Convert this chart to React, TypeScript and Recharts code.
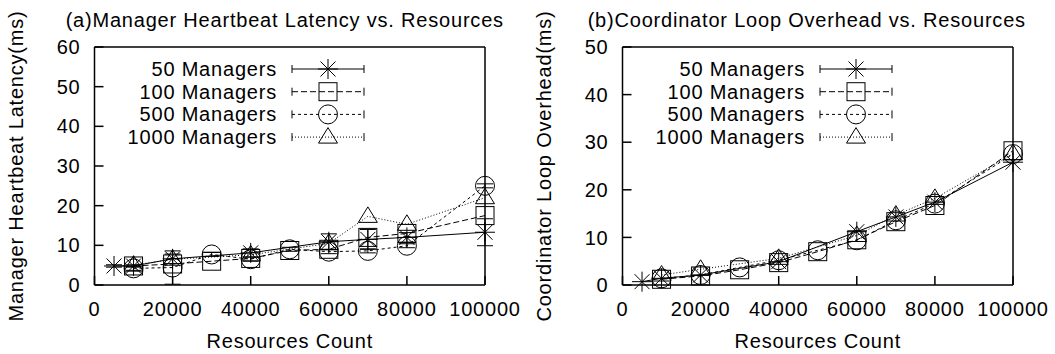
import React from 'react';
import { LineChart, Line, XAxis, YAxis, Legend, ErrorBar, Label } from 'recharts';

const FONT = '"Liberation Sans", Arial, Helvetica, sans-serif';
const FS = 20;
const LS = 0.8;

const resources = [10000, 20000, 30000, 40000, 50000, 60000, 70000, 80000, 100000];
const resources50 = [5000, 10000, 20000, 40000, 60000, 70000, 80000, 100000];
const resources1000 = [10000, 20000, 40000, 60000, 70000, 80000, 100000];

const seriesNames = ['50 Managers', '100 Managers', '500 Managers', '1000 Managers'];
const xTicks = [0, 20000, 40000, 60000, 80000, 100000];

// (a) manager heartbeat latency, ms
const latency50 = [4.8, 4.8, 6.6, 8.1, 10.9, 11.5, 12.0, 13.3];
const latency50Err = [0.3, 0.3, 1.2, 1.0, 2.0, 2.5, 1.2, 3.4];
const latency100 = [4.8, 5.3, 6.0, 6.7, 8.7, 9.0, 12.0, 13.0, 17.5];
const latency500 = [4.2, 4.4, 7.7, 6.5, 9.0, 8.4, 8.6, 9.9, 25.0];
const latency500Err = [0.5, 4.2, 0.5, 0.5, 0.5, 0.5, 0.5, 0.5, 0.5];
const latency1000 = [5.0, 6.5, 7.6, 10.5, 17.3, 15.3, 22.0];
const latencyTicks = [0, 10, 20, 30, 40, 50, 60];

// (b) coordinator loop overhead, ms
const overhead50 = [0.7, 1.4, 2.1, 4.9, 11.2, 14.3, 17.4, 25.8];
const overhead100 = [1.2, 1.9, 3.2, 4.7, 7.0, 9.5, 13.3, 16.7, 28.2];
const overhead500 = [1.4, 2.1, 3.7, 5.2, 7.3, 9.4, 13.6, 17.1, 27.5];
const overhead1000 = [2.1, 3.3, 5.6, 10.4, 14.7, 18.2, 27.6];
const overheadTicks = [0, 10, 20, 30, 40, 50];

const shapes = ['star', 'square', 'circle', 'triangle'];
const dashes = [undefined, '6 3', '3 3', '1 2'];

type Series = { xs: number[]; ys: number[]; errs?: number[] };

const Marker = ({ shape, cx, cy }: { shape: string; cx?: number; cy?: number }) => {
  if (cx == null || cy == null) return null;
  const p = { stroke: '#000', strokeWidth: 1, fill: 'none' };
  if (shape === 'star') {
    const r = 10;
    const d = 7.5;
    return (
      <g {...p}>
        <line x1={cx - r} y1={cy} x2={cx + r} y2={cy} />
        <line x1={cx} y1={cy - r} x2={cx} y2={cy + r} />
        <line x1={cx - d} y1={cy - d} x2={cx + d} y2={cy + d} />
        <line x1={cx - d} y1={cy + d} x2={cx + d} y2={cy - d} />
      </g>
    );
  }
  if (shape === 'square') return <rect x={cx - 9} y={cy - 9} width={18} height={18} {...p} />;
  if (shape === 'circle') return <circle cx={cx} cy={cy} r={9.5} {...p} />;
  return <polygon points={`${cx},${cy - 9.5} ${cx - 9.5},${cy + 6} ${cx + 9.5},${cy + 6}`} {...p} />;
};

const LegendBox = () => (
  <svg width={300} height={100} style={{ overflow: 'visible' }}>
    {seriesNames.map((name, i) => {
      const y = 14 + i * 22.7;
      return (
        <g key={name}>
          <text
            x={177} y={y} dy="0.35em" textAnchor="end" fontSize={FS} fontFamily={FONT} fill="#000"
            letterSpacing={LS}
          >
            {name}
          </text>
          <line x1={192} x2={264} y1={y} y2={y} stroke="#000" strokeWidth={1} strokeDasharray={dashes[i]} />
          <line x1={192} x2={192} y1={y - 4} y2={y + 4} stroke="#000" strokeWidth={1} />
          <line x1={264} x2={264} y1={y - 4} y2={y + 4} stroke="#000" strokeWidth={1} />
          <Marker shape={shapes[i]} cx={228} cy={y} />
        </g>
      );
    })}
  </svg>
);

const Title = ({ viewBox, value, shift }: any) => (
  <text
    x={viewBox.x + viewBox.width / 2 + shift}
    y={viewBox.y - 19}
    textAnchor="middle"
    fontSize={FS}
    fontFamily={FONT}
    letterSpacing={LS}
    fill="#000"
  >
    {value}
  </text>
);

const axisStroke = { stroke: '#000', strokeWidth: 1.5 };
const tickFont = { fontSize: FS, fill: '#000', fontFamily: FONT, letterSpacing: LS };

const Panel = ({
  title, yLabel, yMax, yTicks, series, titleShift, leftPad,
}: {
  title: string; yLabel: string; yMax: number; yTicks: number[]; series: Series[]; titleShift: number; leftPad: number;
}) => (
  <LineChart width={527 + leftPad} height={354} margin={{ top: 46, right: 41, bottom: 0, left: leftPad }}>
    <XAxis
      xAxisId="b" dataKey="x" type="number" domain={[0, 100000]} ticks={xTicks} height={69}
      tickSize={-9} tickMargin={26} axisLine={axisStroke} tickLine={axisStroke} tick={tickFont}
    >
      <Label
        value="Resources Count" position="insideBottom" offset={6}
        fontSize={FS} fontFamily={FONT} fill="#000" letterSpacing={LS}
      />
    </XAxis>
    <XAxis
      xAxisId="t" orientation="top" dataKey="x" type="number" domain={[0, 100000]} ticks={xTicks} height={1}
      tickSize={-9} axisLine={axisStroke} tickLine={axisStroke} tick={false}
    >
      <Label content={<Title shift={titleShift} />} value={title} />
    </XAxis>
    <YAxis
      yAxisId="l" type="number" domain={[0, yMax]} ticks={yTicks} width={94.5}
      tickSize={-9} tickMargin={23} axisLine={axisStroke} tickLine={axisStroke} tick={tickFont}
    >
      <Label
        value={yLabel} angle={-90} position="insideLeft" offset={16}
        fontSize={FS} fontFamily={FONT} fill="#000" letterSpacing={LS} style={{ textAnchor: 'middle' }}
      />
    </YAxis>
    <YAxis
      yAxisId="r" orientation="right" type="number" domain={[0, yMax]} ticks={yTicks} width={1}
      tickSize={-9} axisLine={axisStroke} tickLine={axisStroke} tick={false}
    />
    <Legend
      layout="vertical" align="center" verticalAlign="middle"
      wrapperStyle={{ left: leftPad + 100, top: 55, width: 300, height: 100 }}
      content={() => <LegendBox />}
    />
    {/* invisible series so the mirrored frame axes get drawn */}
    <Line
      xAxisId="t" yAxisId="r" dataKey="y" data={[{ x: 0, y: 0 }, { x: 100000, y: yMax }]}
      stroke="none" dot={false} activeDot={false} legendType="none" isAnimationActive={false}
    />
    {series.map((s, i) => (
      <Line
        key={seriesNames[i]}
        name={seriesNames[i]}
        xAxisId="b"
        yAxisId="l"
        data={s.xs.map((x, j) => ({ x, y: s.ys[j], e: s.errs ? s.errs[j] : 0 }))}
        dataKey="y"
        type="linear"
        stroke="#000"
        strokeWidth={1}
        strokeDasharray={dashes[i]}
        dot={(p: any) => <Marker key={`${i}-${p.index}`} shape={shapes[i]} cx={p.cx} cy={p.cy} />}
        activeDot={false}
        isAnimationActive={false}
      >
        {s.errs && (
          <ErrorBar dataKey="e" width={8} stroke="#000" strokeWidth={1} direction="y" isAnimationActive={false} />
        )}
      </Line>
    ))}
  </LineChart>
);

const App = () => (
  <div style={{ position: 'absolute', left: 0, top: 0, width: 1055, height: 354, display: 'flex', background: '#fff' }}>
    <Panel
      title="(a)Manager Heartbeat Latency vs. Resources"
      yLabel="Manager Heartbeat Latency(ms)"
      yMax={60}
      yTicks={latencyTicks}
      titleShift={-5}
      leftPad={0}
      series={[
        { xs: resources50, ys: latency50, errs: latency50Err },
        { xs: resources, ys: latency100 },
        { xs: resources, ys: latency500, errs: latency500Err },
        { xs: resources1000, ys: latency1000 },
      ]}
    />
    <Panel
      title="(b)Coordinator Loop Overhead vs. Resources"
      yLabel="Coordinator Loop Overhead(ms)"
      yMax={50}
      yTicks={overheadTicks}
      titleShift={-11}
      leftPad={1}
      series={[
        { xs: resources50, ys: overhead50 },
        { xs: resources, ys: overhead100 },
        { xs: resources, ys: overhead500 },
        { xs: resources1000, ys: overhead1000 },
      ]}
    />
  </div>
);

export default App;
